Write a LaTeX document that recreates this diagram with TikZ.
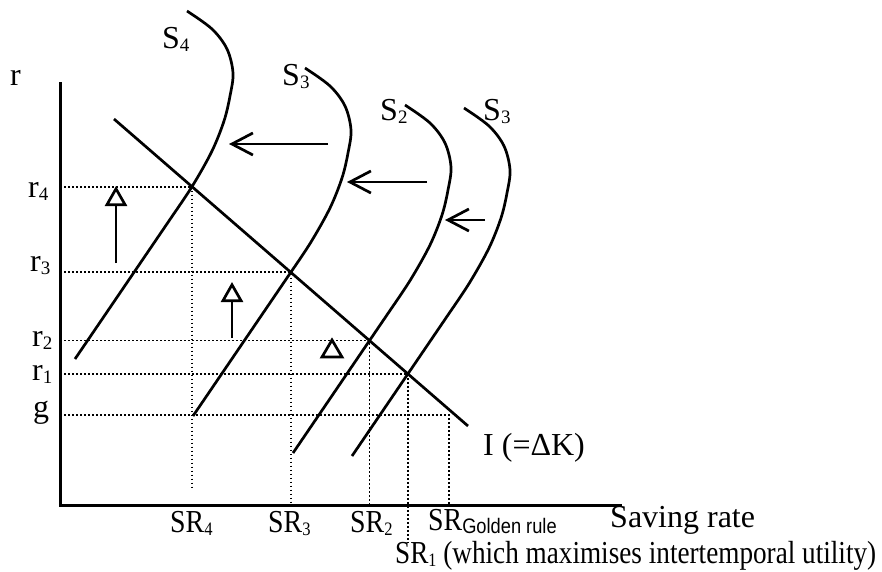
\documentclass[tikz,border=0pt]{standalone}
\usepackage{fontspec}
\setmainfont{Liberation Serif}
\newfontfamily\sansf{Liberation Sans}
\usetikzlibrary{arrows.meta,intersections}
\newcommand\lowsub[1]{\raisebox{-3pt}{\fontsize{19}{19}\selectfont #1}}
\newcommand\lowsans[1]{\raisebox{-3pt}{\sansf\fontsize{21}{21}\selectfont #1}}
\newcommand\narrow[1]{\scalebox{0.87}[1]{#1}}
\begin{document}
\begin{tikzpicture}[x=1pt,y=-1pt,
  curve/.style={line width=2.7pt},
  axisline/.style={line width=3pt},
  guide/.style={line width=1.8pt, dash pattern=on 1.6pt off 2.4pt},
  lbl/.style={font=\fontsize{32}{36}\selectfont, inner sep=0pt, anchor=base west},
  shiftarrow/.style={line width=2.7pt, -{Straight Barb[length=21pt,width=22pt]}},
  risearrow/.style={line width=2.7pt, -{Triangle[open,length=20pt,width=22pt]}},
]
\useasboundingbox (0,0) rectangle (882,571);

% axes
\coordinate (ytop) at (60,82);
\coordinate (O) at (60,505);
\coordinate (xend) at (622,505);
\coordinate (stop4) at (0,490);
\coordinate (stop1) at (0,543);
\draw[axisline] (ytop) -- (O) -- (xend);

% supply curves
\foreach \n/\mx/\my in {4/233/73,3/351/130,2/451/167,1/510/170}{
  \draw[curve, shift={(\mx,\my)}, name path global=S\n]
    plot[smooth,tension=0.55] coordinates {(-46,-62) (-21,-44) (-6,-24) (0,0) (-3,23) (-9,48) (-21,78) (-40,112) (-60,142)}
    -- (-158,286);
}

% investment line
\coordinate (Itop) at (114,119);
\coordinate (Ibot) at (468,426);
\draw[curve, name path=Iline] (Itop) -- (Ibot);

\path[name intersections={of=S4 and Iline, by=E4}];
\path[name intersections={of=S3 and Iline, by=E3}];
\path[name intersections={of=S2 and Iline, by=E2}];
\path[name intersections={of=S1 and Iline, by=E1}];
\coordinate (EG) at (449,415);

% dotted guides
\draw[guide] (E4 -| O) -- (E4) -- (E4 |- stop4);
\draw[guide] (E3 -| O) -- (E3) -- (E3 |- O);
\draw[guide] (E2 -| O) -- (E2) -- (E2 |- O);
\draw[guide] (E1 -| O) -- (E1) -- (E1 |- stop1);
\draw[guide] (EG -| O) -- (EG) -- (EG |- O);

% shift arrows
\coordinate (a1s) at (328,144); \coordinate (a1e) at (229,144);
\coordinate (a2s) at (427,182); \coordinate (a2e) at (347,182);
\coordinate (a3s) at (485,220); \coordinate (a3e) at (445,220);
\draw[shiftarrow] (a1s) -- (a1e);
\draw[shiftarrow] (a2s) -- (a2e);
\draw[shiftarrow] (a3s) -- (a3e);

% rise arrows
\coordinate (v1s) at (116,263); \coordinate (v1e) at (116,186);
\coordinate (v2s) at (232,338); \coordinate (v2e) at (232,282);
\draw[risearrow] (v1s) -- (v1e);
\draw[risearrow] (v2s) -- (v2e);
\draw[line width=2.7pt, line join=miter] (332,340) -- (322,357) -- (342,357) -- cycle;

% labels
\node[lbl] (rax) at (10,85) {r};
\node[lbl] (r4) at (28,197) {r\lowsub{4}};
\node[lbl] (r3) at (30,271) {r\lowsub{3}};
\node[lbl] (r2) at (32,346) {r\lowsub{2}};
\node[lbl] (r1) at (32,380) {r\lowsub{1}};
\node[lbl] (gl) at (33,417) {g};

\node[lbl] (s4) at (162,48) {S\lowsub{4}};
\node[lbl] (s3) at (282,85) {S\lowsub{3}};
\node[lbl] (s2) at (380,120) {S\lowsub{2}};
\node[lbl] (s1) at (483,120) {S\lowsub{3}};

\node[lbl] (sr4) at (170,532) {\narrow{SR\lowsub{4}}};
\node[lbl] (sr3) at (268,532) {\narrow{SR\lowsub{3}}};
\node[lbl] (sr2) at (350,532) {\narrow{SR\lowsub{2}}};
\node[lbl] (srg) at (428,530) {\narrow{SR\lowsans{Golden rule}}};
\node[lbl] (xlab) at (610,527) {Saving rate};
\node[lbl] (sr1) at (395,563) {\scalebox{0.85}[1]{SR\lowsub{1} (which maximises intertemporal utility)}};
\node[lbl] (ilab) at (483,455) {I (=ΔK)};
\end{tikzpicture}
\end{document}
